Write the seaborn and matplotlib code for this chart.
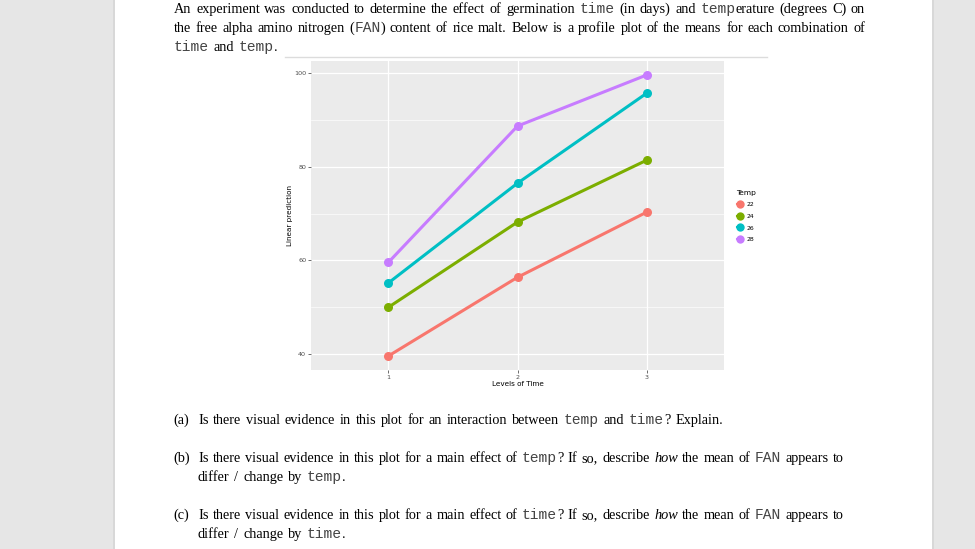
import numpy as np
import pandas as pd
import seaborn as sns
import matplotlib.pyplot as plt
from matplotlib.lines import Line2D
from matplotlib.patches import Rectangle

# data
times = [1, 2, 3]
temps = ["22", "24", "26", "28"]
pred_22 = [39.6, 56.4, 70.3]
pred_24 = [50.0, 68.2, 81.4]
pred_26 = [55.2, 76.5, 95.7]
pred_28 = [59.6, 88.7, 99.6]
colors = ["#F8766D", "#7CAE00", "#00BFC4", "#C77CFF"]

df = pd.DataFrame({
    "time": times * 4,
    "temp": np.repeat(temps, 3),
    "pred": pred_22 + pred_24 + pred_26 + pred_28,
})

# document text around the chart
intro = [
    [("An experiment was conducted to determine the effect of germination ", "rm"), ("time", "tt"),
     (" (in days) and ", "rm"), ("temp", "tt"), ("erature (degrees C) on", "rm")],
    [("the free alpha amino nitrogen (", "rm"), ("FAN", "tt"),
     (") content of rice malt. Below is a profile plot of the means for each combination of", "rm")],
    [("time", "tt"), (" and ", "rm"), ("temp", "tt"), (".", "rm")],
]
q_a = [[("Is there visual evidence in this plot for an interaction between ", "rm"), ("temp", "tt"),
        (" and ", "rm"), ("time", "tt"), ("? Explain.", "rm")]]
q_b = [[("Is there visual evidence in this plot for a main effect of ", "rm"), ("temp", "tt"),
        ("? If so, describe ", "rm"), ("how", "it"), (" the mean of ", "rm"), ("FAN", "tt"), (" appears to", "rm")],
       [("differ / change by ", "rm"), ("temp", "tt"), (".", "rm")]]
q_c = [[("Is there visual evidence in this plot for a main effect of ", "rm"), ("time", "tt"),
        ("? If so, describe ", "rm"), ("how", "it"), (" the mean of ", "rm"), ("FAN", "tt"), (" appears to", "rm")],
       [("differ / change by ", "rm"), ("time", "tt"), (".", "rm")]]

W, H = 975, 549
fig = plt.figure(figsize=(9.75, 5.49), dpi=100)
fig.patch.set_facecolor("#e6e6e6")
fig.add_artist(Rectangle((115 / W, 0), (932 - 115) / W, 1, transform=fig.transFigure,
                         facecolor="white", edgecolor="none", zorder=0))
for xe in (114, 933):
    fig.add_artist(Line2D([xe / W, xe / W], [0, 1], transform=fig.transFigure, color="#d6d6d6", lw=1.2))
fig.add_artist(Line2D([285 / W, 767 / W], [1 - 57 / H, 1 - 57 / H], transform=fig.transFigure,
                      color="#dcdcdc", lw=1))

fonts = {
    "rm": dict(family="Liberation Serif", fontsize=10.3),
    "it": dict(family="Liberation Serif", style="italic", fontsize=10.3),
    "tt": dict(family="Liberation Mono", color="#444444", fontsize=10.5),
}
r = fig.canvas.get_renderer()


def ink(s, style):
    t = fig.text(0, 0, s, **fonts[style])
    w = t.get_window_extent(r).width
    t.remove()
    return w


def advance(s, style):
    # width including side bearings: pad with a reference glyph on both sides
    return ink("|" + s + "|", style) - ink("||", style)


space = 1.3 * (ink("| |", "rm") - ink("||", "rm"))


def put_line(x0, y, segs, width=None):
    toks = []
    gap = False
    for s, style in segs:
        for i, word in enumerate(s.split(" ")):
            if i > 0:
                gap = True
            if word:
                toks.append((word, style, gap))
                gap = False
    ws = [advance(w, st) for w, st, _ in toks]
    ngap = sum(g for _, _, g in toks)
    sp = space if width is None else (width - sum(ws)) / ngap
    x = x0
    for (word, style, g), w in zip(toks, ws):
        if g:
            x += sp
        fig.text(x / W, 1 - y / H, word, va="baseline", **fonts[style])
        x += w


put_line(174, 13, intro[0], 691)
put_line(174, 32, intro[1], 691)
put_line(174, 51, intro[2])

for lab, lines, y in (("(a)", q_a, 424), ("(b)", q_b, 462), ("(c)", q_c, 519)):
    fig.text(173 / W, 1 - y / H, lab, va="baseline", **fonts["rm"])
    if len(lines) == 1:
        put_line(198, y, lines[0])
    else:
        put_line(198, y, lines[0], 646)
        put_line(198, y + 19, lines[1])

# the ggplot-style profile plot
ax = fig.add_axes([311 / W, 1 - 370 / H, (724 - 311) / W, (370 - 61) / H])
ax.set_facecolor("#EBEBEB")
sns.lineplot(data=df, x="time", y="pred", hue="temp", palette=colors, marker="o",
             markersize=6.5, markeredgewidth=0, linewidth=2.2, legend=False, ax=ax)
ax.set_xlim(0.4, 3.6)
ax.set_ylim(36.6, 102.6)
ax.set_xticks(times)
ax.set_xticklabels(["1", "2", "3"])
ax.set_yticks([40, 60, 80, 100])
ax.set_yticks([50, 70, 90], minor=True)
ax.grid(which="major", color="white", lw=0.9)
ax.grid(which="minor", axis="y", color="white", lw=0.45)
ax.set_axisbelow(True)
for s in ax.spines.values():
    s.set_visible(False)
ax.tick_params(which="major", length=2, width=0.5, color="#333333", labelsize=4.6,
               labelcolor="#4D4D4D", pad=1.5)
ax.tick_params(which="minor", length=0)
ax.set_xlabel("Levels of Time", fontsize=5.2)
ax.set_ylabel("Linear prediction", fontsize=5.2)
ax.xaxis.set_label_coords(0.5, -11 / 309)
ax.yaxis.set_label_coords(-18 / 413, 0.5)

handles = [Line2D([], [], color=c, marker="o", markersize=6, lw=1.5, markeredgewidth=0) for c in colors]
leg = fig.legend(handles, temps, title="Temp", loc="upper left", bbox_to_anchor=(731 / W, 1 - 184 / H),
                 frameon=False, fontsize=4.4, title_fontsize=5.4, handlelength=1.0, handletextpad=0.6,
                 labelspacing=1.05, alignment="left")

fig.savefig("out.png", dpi=100)
